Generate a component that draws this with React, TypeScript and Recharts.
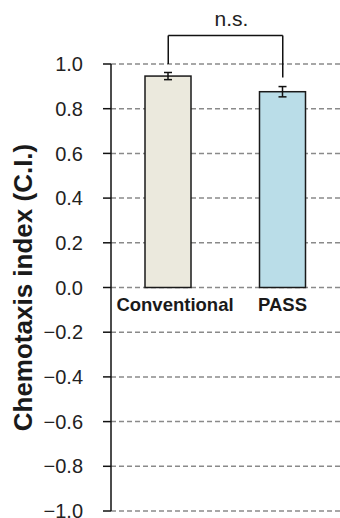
import React from 'react'
import {
  BarChart,
  Bar,
  XAxis,
  YAxis,
  CartesianGrid,
  ErrorBar,
  LabelList,
  ReferenceLine,
} from 'recharts'

// values
const groups = ['Conventional', 'PASS']
const means = [0.946, 0.876]
const errors = [0.016, 0.023]
const yTicks = [-1.0, -0.8, -0.6, -0.4, -0.2, 0.0, 0.2, 0.4, 0.6, 0.8, 1.0]
const fills = ['#ebe9dd', '#badde8']

// significance bracket (in C.I. units)
const bracketTop = 1.128
const bracketLegEnds = [1.0, 0.94]
const sigLabel = 'n.s.'

const data = groups.map((name, i) => ({ name, ci: means[i], err: errors[i] }))

const FONT = '"Liberation Sans", Arial, sans-serif'
const labelShift = [7, 0]

const fmtTick = (v: number) => v.toFixed(1).replace('-', '\u2212')

function YLabel(props: any) {
  const vb = props.viewBox || {}
  const cx = (vb.x ?? 0) + 23
  const cy = (vb.y ?? 0) + (vb.height ?? 0) / 2
  return (
    <text
      x={cx}
      y={cy}
      transform={`rotate(-90, ${cx}, ${cy})`}
      textAnchor="middle"
      dominantBaseline="central"
      fontFamily={FONT}
      fontWeight="bold"
      fontSize={26}
      fill="#1a1a1a"
    >
      Chemotaxis index (C.I.)
    </text>
  )
}

function GroupLabel(props: any) {
  const { x, y, width, height, value, index } = props
  return (
    <text
      x={x + width / 2 + (labelShift[index] ?? 0)}
      y={y + height + 23}
      textAnchor="middle"
      fontFamily={FONT}
      fontWeight="bold"
      fontSize={18.5}
      fill="#1a1a1a"
    >
      {value}
    </text>
  )
}

export default function App() {
  return (
    <div style={{ position: 'absolute', left: 0, top: 0, width: 340, height: 518, background: '#fff' }}>
      <BarChart
        width={340}
        height={518}
        data={data}
        margin={{ top: 64, right: 0, bottom: 7, left: 0 }}
        barSize={46}
      >
        <CartesianGrid
          vertical={false}
          stroke="#8a8a8a"
          strokeWidth={1.5}
          strokeDasharray="5 3"
        />
        <XAxis dataKey="name" type="category" hide />
        <YAxis
          type="number"
          domain={[-1, 1]}
          ticks={yTicks}
          interval={0}
          width={111}
          tickSize={8}
          tickMargin={20}
          tickFormatter={fmtTick}
          axisLine={{ stroke: '#111', strokeWidth: 1.5 }}
          tickLine={{ stroke: '#111', strokeWidth: 1.5 }}
          tick={{ fontFamily: FONT, fontSize: 20, fill: '#222' }}
          label={{ content: <YLabel /> }}
        />
        <Bar dataKey="ci" stroke="#1a1a1a" strokeWidth={1.5} isAnimationActive={false}
          shape={(p: any) => (
            <rect x={p.x} y={p.y} width={p.width} height={p.height}
              fill={fills[p.index]} stroke="#1a1a1a" strokeWidth={1.5} />
          )}
        >
          <ErrorBar dataKey="err" width={4} stroke="#111" strokeWidth={1.5} isAnimationActive={false} />
          <LabelList dataKey="name" content={<GroupLabel />} />
        </Bar>
        <ReferenceLine
          segment={[{ x: groups[0], y: bracketTop }, { x: groups[1], y: bracketTop }]}
          stroke="#111"
          strokeWidth={1.5}
          ifOverflow="visible"
          label={{ value: sigLabel, position: 'top', offset: 9, dx: 6, fontFamily: FONT, fontSize: 21, fill: '#222' }}
        />
        <ReferenceLine
          segment={[{ x: groups[0], y: bracketTop }, { x: groups[0], y: bracketLegEnds[0] }]}
          stroke="#111"
          strokeWidth={1.5}
          ifOverflow="visible"
        />
        <ReferenceLine
          segment={[{ x: groups[1], y: bracketTop }, { x: groups[1], y: bracketLegEnds[1] }]}
          stroke="#111"
          strokeWidth={1.5}
          ifOverflow="visible"
        />
      </BarChart>
    </div>
  )
}
